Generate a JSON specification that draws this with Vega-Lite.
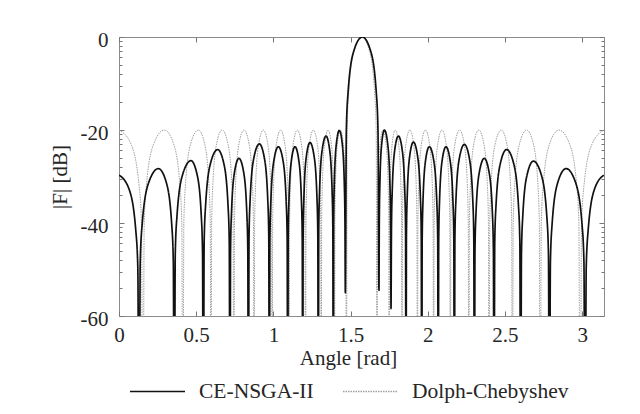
{
"$schema": "https://vega.github.io/schema/vega-lite/v6.json",
"width": 485, "height": 279,
"autosize": {"type": "none"},
"padding": {"left": 119, "top": 37, "right": 36, "bottom": 98},
"background": "white",
"config": {
  "view": {"stroke": "#8c8c8c", "strokeWidth": 1},
  "font": "Liberation Serif",
  "axis": {"domain": false, "grid": false, "tickColor": "#777777", "tickSize": -5, "labelFlush": false, "labelFont": "Liberation Serif", "labelFontSize": 21, "labelColor": "#262626", "titleFont": "Liberation Serif", "titleFontSize": 21, "titleFontWeight": "normal", "titleColor": "#262626"}
},
"data": {"values": [
{"angle":0,"dB":-29.7,"s":"CE-NSGA-II"},{"angle":0.065,"dB":-32.7,"s":"CE-NSGA-II"},{"angle":0.109,"dB":-41.7,"s":"CE-NSGA-II"},{"angle":0.122,"dB":-49.7,"s":"CE-NSGA-II"},{"angle":0.13,"dB":-100,"s":"CE-NSGA-II"},
{"angle":0.1375,"dB":-48.3,"s":"CE-NSGA-II"},{"angle":0.15,"dB":-40.3,"s":"CE-NSGA-II"},{"angle":0.1925,"dB":-31.3,"s":"CE-NSGA-II"},{"angle":0.255,"dB":-28.3,"s":"CE-NSGA-II"},{"angle":0.3065,"dB":-31.3,"s":"CE-NSGA-II"},{"angle":0.3415,"dB":-40.3,"s":"CE-NSGA-II"},{"angle":0.3518,"dB":-48.3,"s":"CE-NSGA-II"},{"angle":0.358,"dB":-100,"s":"CE-NSGA-II"},
{"angle":0.3645,"dB":-46.6,"s":"CE-NSGA-II"},{"angle":0.3753,"dB":-38.6,"s":"CE-NSGA-II"},{"angle":0.412,"dB":-29.6,"s":"CE-NSGA-II"},{"angle":0.466,"dB":-26.6,"s":"CE-NSGA-II"},{"angle":0.506,"dB":-29.6,"s":"CE-NSGA-II"},{"angle":0.5332,"dB":-38.6,"s":"CE-NSGA-II"},{"angle":0.5412,"dB":-46.6,"s":"CE-NSGA-II"},{"angle":0.546,"dB":-100,"s":"CE-NSGA-II"},
{"angle":0.5516,"dB":-44.2,"s":"CE-NSGA-II"},{"angle":0.5609,"dB":-36.2,"s":"CE-NSGA-II"},{"angle":0.5925,"dB":-27.2,"s":"CE-NSGA-II"},{"angle":0.639,"dB":-24.2,"s":"CE-NSGA-II"},{"angle":0.679,"dB":-27.2,"s":"CE-NSGA-II"},{"angle":0.7062,"dB":-36.2,"s":"CE-NSGA-II"},{"angle":0.7142,"dB":-44.2,"s":"CE-NSGA-II"},{"angle":0.719,"dB":-100,"s":"CE-NSGA-II"},
{"angle":0.7225,"dB":-46.1,"s":"CE-NSGA-II"},{"angle":0.7283,"dB":-38.1,"s":"CE-NSGA-II"},{"angle":0.748,"dB":-29.1,"s":"CE-NSGA-II"},{"angle":0.777,"dB":-26.1,"s":"CE-NSGA-II"},{"angle":0.8075,"dB":-29.1,"s":"CE-NSGA-II"},{"angle":0.8282,"dB":-38.1,"s":"CE-NSGA-II"},{"angle":0.8343,"dB":-46.1,"s":"CE-NSGA-II"},{"angle":0.838,"dB":-100,"s":"CE-NSGA-II"},
{"angle":0.8423,"dB":-43,"s":"CE-NSGA-II"},{"angle":0.8494,"dB":-35,"s":"CE-NSGA-II"},{"angle":0.8735,"dB":-26,"s":"CE-NSGA-II"},{"angle":0.909,"dB":-23,"s":"CE-NSGA-II"},{"angle":0.9415,"dB":-26,"s":"CE-NSGA-II"},{"angle":0.9636,"dB":-35,"s":"CE-NSGA-II"},{"angle":0.9701,"dB":-43,"s":"CE-NSGA-II"},{"angle":0.974,"dB":-100,"s":"CE-NSGA-II"},
{"angle":0.9775,"dB":-43.6,"s":"CE-NSGA-II"},{"angle":0.9833,"dB":-35.6,"s":"CE-NSGA-II"},{"angle":1.003,"dB":-26.6,"s":"CE-NSGA-II"},{"angle":1.032,"dB":-23.6,"s":"CE-NSGA-II"},{"angle":1.0625,"dB":-26.6,"s":"CE-NSGA-II"},{"angle":1.0832,"dB":-35.6,"s":"CE-NSGA-II"},{"angle":1.0893,"dB":-43.6,"s":"CE-NSGA-II"},{"angle":1.093,"dB":-100,"s":"CE-NSGA-II"},
{"angle":1.0958,"dB":-43.6,"s":"CE-NSGA-II"},{"angle":1.1005,"dB":-35.6,"s":"CE-NSGA-II"},{"angle":1.1165,"dB":-26.6,"s":"CE-NSGA-II"},{"angle":1.14,"dB":-23.6,"s":"CE-NSGA-II"},{"angle":1.165,"dB":-26.6,"s":"CE-NSGA-II"},{"angle":1.182,"dB":-35.6,"s":"CE-NSGA-II"},{"angle":1.187,"dB":-43.6,"s":"CE-NSGA-II"},{"angle":1.19,"dB":-100,"s":"CE-NSGA-II"},
{"angle":1.1928,"dB":-42.7,"s":"CE-NSGA-II"},{"angle":1.1975,"dB":-34.7,"s":"CE-NSGA-II"},{"angle":1.2135,"dB":-25.7,"s":"CE-NSGA-II"},{"angle":1.237,"dB":-22.7,"s":"CE-NSGA-II"},{"angle":1.264,"dB":-25.7,"s":"CE-NSGA-II"},{"angle":1.2824,"dB":-34.7,"s":"CE-NSGA-II"},{"angle":1.2878,"dB":-42.7,"s":"CE-NSGA-II"},{"angle":1.291,"dB":-100,"s":"CE-NSGA-II"},
{"angle":1.294,"dB":-41.3,"s":"CE-NSGA-II"},{"angle":1.299,"dB":-33.3,"s":"CE-NSGA-II"},{"angle":1.316,"dB":-24.3,"s":"CE-NSGA-II"},{"angle":1.341,"dB":-21.3,"s":"CE-NSGA-II"},{"angle":1.3645,"dB":-24.3,"s":"CE-NSGA-II"},{"angle":1.3805,"dB":-33.3,"s":"CE-NSGA-II"},{"angle":1.3852,"dB":-41.3,"s":"CE-NSGA-II"},{"angle":1.388,"dB":-100,"s":"CE-NSGA-II"},
{"angle":1.3903,"dB":-40.1,"s":"CE-NSGA-II"},{"angle":1.3942,"dB":-32.1,"s":"CE-NSGA-II"},{"angle":1.4075,"dB":-23.1,"s":"CE-NSGA-II"},{"angle":1.427,"dB":-20.1,"s":"CE-NSGA-II"},{"angle":1.4465,"dB":-23.1,"s":"CE-NSGA-II"},{"angle":1.4598,"dB":-32.1,"s":"CE-NSGA-II"},{"angle":1.4637,"dB":-40.1,"s":"CE-NSGA-II"},{"angle":1.466,"dB":-55,"s":"CE-NSGA-II"},
{"angle":1.4726,"dB":-20,"s":"CE-NSGA-II"},{"angle":1.4836,"dB":-12,"s":"CE-NSGA-II"},{"angle":1.521,"dB":-3,"s":"CE-NSGA-II"},{"angle":1.576,"dB":0,"s":"CE-NSGA-II"},{"angle":1.63,"dB":-3,"s":"CE-NSGA-II"},{"angle":1.6667,"dB":-12,"s":"CE-NSGA-II"},{"angle":1.6775,"dB":-20,"s":"CE-NSGA-II"},{"angle":1.684,"dB":-54.5,"s":"CE-NSGA-II"},
{"angle":1.6861,"dB":-40,"s":"CE-NSGA-II"},{"angle":1.6896,"dB":-32,"s":"CE-NSGA-II"},{"angle":1.7015,"dB":-23,"s":"CE-NSGA-II"},{"angle":1.719,"dB":-20,"s":"CE-NSGA-II"},{"angle":1.7405,"dB":-23,"s":"CE-NSGA-II"},{"angle":1.7551,"dB":-32,"s":"CE-NSGA-II"},{"angle":1.7594,"dB":-40,"s":"CE-NSGA-II"},{"angle":1.762,"dB":-58.4,"s":"CE-NSGA-II"},
{"angle":1.7649,"dB":-41.3,"s":"CE-NSGA-II"},{"angle":1.7697,"dB":-33.3,"s":"CE-NSGA-II"},{"angle":1.786,"dB":-24.3,"s":"CE-NSGA-II"},{"angle":1.81,"dB":-21.3,"s":"CE-NSGA-II"},{"angle":1.8345,"dB":-24.3,"s":"CE-NSGA-II"},{"angle":1.8512,"dB":-33.3,"s":"CE-NSGA-II"},{"angle":1.8561,"dB":-41.3,"s":"CE-NSGA-II"},{"angle":1.859,"dB":-100,"s":"CE-NSGA-II"},
{"angle":1.8619,"dB":-42.6,"s":"CE-NSGA-II"},{"angle":1.8667,"dB":-34.6,"s":"CE-NSGA-II"},{"angle":1.883,"dB":-25.6,"s":"CE-NSGA-II"},{"angle":1.907,"dB":-22.6,"s":"CE-NSGA-II"},{"angle":1.934,"dB":-25.6,"s":"CE-NSGA-II"},{"angle":1.9524,"dB":-34.6,"s":"CE-NSGA-II"},{"angle":1.9578,"dB":-42.6,"s":"CE-NSGA-II"},{"angle":1.961,"dB":-100,"s":"CE-NSGA-II"},
{"angle":1.9639,"dB":-43.6,"s":"CE-NSGA-II"},{"angle":1.9688,"dB":-35.6,"s":"CE-NSGA-II"},{"angle":1.9855,"dB":-26.6,"s":"CE-NSGA-II"},{"angle":2.01,"dB":-23.6,"s":"CE-NSGA-II"},{"angle":2.039,"dB":-26.6,"s":"CE-NSGA-II"},{"angle":2.0587,"dB":-35.6,"s":"CE-NSGA-II"},{"angle":2.0645,"dB":-43.6,"s":"CE-NSGA-II"},{"angle":2.068,"dB":-100,"s":"CE-NSGA-II"},
{"angle":2.071,"dB":-43.6,"s":"CE-NSGA-II"},{"angle":2.076,"dB":-35.6,"s":"CE-NSGA-II"},{"angle":2.093,"dB":-26.6,"s":"CE-NSGA-II"},{"angle":2.118,"dB":-23.6,"s":"CE-NSGA-II"},{"angle":2.145,"dB":-26.6,"s":"CE-NSGA-II"},{"angle":2.1634,"dB":-35.6,"s":"CE-NSGA-II"},{"angle":2.1688,"dB":-43.6,"s":"CE-NSGA-II"},{"angle":2.172,"dB":-100,"s":"CE-NSGA-II"},
{"angle":2.1759,"dB":-43.1,"s":"CE-NSGA-II"},{"angle":2.1824,"dB":-35.1,"s":"CE-NSGA-II"},{"angle":2.2045,"dB":-26.1,"s":"CE-NSGA-II"},{"angle":2.237,"dB":-23.1,"s":"CE-NSGA-II"},{"angle":2.2695,"dB":-26.1,"s":"CE-NSGA-II"},{"angle":2.2916,"dB":-35.1,"s":"CE-NSGA-II"},{"angle":2.2981,"dB":-43.1,"s":"CE-NSGA-II"},{"angle":2.302,"dB":-100,"s":"CE-NSGA-II"},
{"angle":2.3058,"dB":-46.1,"s":"CE-NSGA-II"},{"angle":2.3122,"dB":-38.1,"s":"CE-NSGA-II"},{"angle":2.334,"dB":-29.1,"s":"CE-NSGA-II"},{"angle":2.366,"dB":-26.1,"s":"CE-NSGA-II"},{"angle":2.3975,"dB":-29.1,"s":"CE-NSGA-II"},{"angle":2.4189,"dB":-38.1,"s":"CE-NSGA-II"},{"angle":2.4252,"dB":-46.1,"s":"CE-NSGA-II"},{"angle":2.429,"dB":-100,"s":"CE-NSGA-II"},
{"angle":2.4339,"dB":-44.2,"s":"CE-NSGA-II"},{"angle":2.4421,"dB":-36.2,"s":"CE-NSGA-II"},{"angle":2.47,"dB":-27.2,"s":"CE-NSGA-II"},{"angle":2.511,"dB":-24.2,"s":"CE-NSGA-II"},{"angle":2.5565,"dB":-27.2,"s":"CE-NSGA-II"},{"angle":2.5874,"dB":-36.2,"s":"CE-NSGA-II"},{"angle":2.5965,"dB":-44.2,"s":"CE-NSGA-II"},{"angle":2.602,"dB":-100,"s":"CE-NSGA-II"},
{"angle":2.6069,"dB":-46.7,"s":"CE-NSGA-II"},{"angle":2.6151,"dB":-38.7,"s":"CE-NSGA-II"},{"angle":2.643,"dB":-29.7,"s":"CE-NSGA-II"},{"angle":2.684,"dB":-26.7,"s":"CE-NSGA-II"},{"angle":2.736,"dB":-29.7,"s":"CE-NSGA-II"},{"angle":2.7714,"dB":-38.7,"s":"CE-NSGA-II"},{"angle":2.7818,"dB":-46.7,"s":"CE-NSGA-II"},{"angle":2.788,"dB":-100,"s":"CE-NSGA-II"},
{"angle":2.7945,"dB":-48.3,"s":"CE-NSGA-II"},{"angle":2.8053,"dB":-40.3,"s":"CE-NSGA-II"},{"angle":2.842,"dB":-31.3,"s":"CE-NSGA-II"},{"angle":2.896,"dB":-28.3,"s":"CE-NSGA-II"},{"angle":2.9575,"dB":-31.3,"s":"CE-NSGA-II"},{"angle":2.9993,"dB":-40.3,"s":"CE-NSGA-II"},{"angle":3.0116,"dB":-48.3,"s":"CE-NSGA-II"},{"angle":3.019,"dB":-100,"s":"CE-NSGA-II"},
{"angle":3.0264,"dB":-49.7,"s":"CE-NSGA-II"},{"angle":3.0386,"dB":-41.7,"s":"CE-NSGA-II"},{"angle":3.0803,"dB":-32.7,"s":"CE-NSGA-II"},{"angle":3.1416,"dB":-29.7,"s":"CE-NSGA-II"},
{"angle":0,"dB":-20,"s":"Dolph-Chebyshev"},{"angle":0.0775,"dB":-23,"s":"Dolph-Chebyshev"},{"angle":0.1302,"dB":-32,"s":"Dolph-Chebyshev"},{"angle":0.1457,"dB":-40,"s":"Dolph-Chebyshev"},{"angle":0.155,"dB":-100,"s":"Dolph-Chebyshev"},
{"angle":0.1633,"dB":-40,"s":"Dolph-Chebyshev"},{"angle":0.1772,"dB":-32,"s":"Dolph-Chebyshev"},{"angle":0.2245,"dB":-23,"s":"Dolph-Chebyshev"},{"angle":0.294,"dB":-20,"s":"Dolph-Chebyshev"},{"angle":0.354,"dB":-23,"s":"Dolph-Chebyshev"},{"angle":0.3948,"dB":-32,"s":"Dolph-Chebyshev"},{"angle":0.4068,"dB":-40,"s":"Dolph-Chebyshev"},{"angle":0.414,"dB":-100,"s":"Dolph-Chebyshev"},
{"angle":0.42,"dB":-40,"s":"Dolph-Chebyshev"},{"angle":0.43,"dB":-32,"s":"Dolph-Chebyshev"},{"angle":0.464,"dB":-23,"s":"Dolph-Chebyshev"},{"angle":0.514,"dB":-20,"s":"Dolph-Chebyshev"},{"angle":0.555,"dB":-23,"s":"Dolph-Chebyshev"},{"angle":0.5829,"dB":-32,"s":"Dolph-Chebyshev"},{"angle":0.5911,"dB":-40,"s":"Dolph-Chebyshev"},{"angle":0.596,"dB":-100,"s":"Dolph-Chebyshev"},
{"angle":0.6003,"dB":-40,"s":"Dolph-Chebyshev"},{"angle":0.6075,"dB":-32,"s":"Dolph-Chebyshev"},{"angle":0.632,"dB":-23,"s":"Dolph-Chebyshev"},{"angle":0.668,"dB":-20,"s":"Dolph-Chebyshev"},{"angle":0.706,"dB":-23,"s":"Dolph-Chebyshev"},{"angle":0.7318,"dB":-32,"s":"Dolph-Chebyshev"},{"angle":0.7394,"dB":-40,"s":"Dolph-Chebyshev"},{"angle":0.744,"dB":-100,"s":"Dolph-Chebyshev"},
{"angle":0.748,"dB":-40,"s":"Dolph-Chebyshev"},{"angle":0.7546,"dB":-32,"s":"Dolph-Chebyshev"},{"angle":0.777,"dB":-23,"s":"Dolph-Chebyshev"},{"angle":0.81,"dB":-20,"s":"Dolph-Chebyshev"},{"angle":0.8425,"dB":-23,"s":"Dolph-Chebyshev"},{"angle":0.8646,"dB":-32,"s":"Dolph-Chebyshev"},{"angle":0.8711,"dB":-40,"s":"Dolph-Chebyshev"},{"angle":0.875,"dB":-100,"s":"Dolph-Chebyshev"},
{"angle":0.8786,"dB":-40,"s":"Dolph-Chebyshev"},{"angle":0.8846,"dB":-32,"s":"Dolph-Chebyshev"},{"angle":0.905,"dB":-23,"s":"Dolph-Chebyshev"},{"angle":0.935,"dB":-20,"s":"Dolph-Chebyshev"},{"angle":0.9635,"dB":-23,"s":"Dolph-Chebyshev"},{"angle":0.9829,"dB":-32,"s":"Dolph-Chebyshev"},{"angle":0.9886,"dB":-40,"s":"Dolph-Chebyshev"},{"angle":0.992,"dB":-100,"s":"Dolph-Chebyshev"},
{"angle":0.9953,"dB":-40,"s":"Dolph-Chebyshev"},{"angle":1.0008,"dB":-32,"s":"Dolph-Chebyshev"},{"angle":1.0195,"dB":-23,"s":"Dolph-Chebyshev"},{"angle":1.047,"dB":-20,"s":"Dolph-Chebyshev"},{"angle":1.0745,"dB":-23,"s":"Dolph-Chebyshev"},{"angle":1.0932,"dB":-32,"s":"Dolph-Chebyshev"},{"angle":1.0987,"dB":-40,"s":"Dolph-Chebyshev"},{"angle":1.102,"dB":-100,"s":"Dolph-Chebyshev"},
{"angle":1.1052,"dB":-40,"s":"Dolph-Chebyshev"},{"angle":1.1105,"dB":-32,"s":"Dolph-Chebyshev"},{"angle":1.1285,"dB":-23,"s":"Dolph-Chebyshev"},{"angle":1.155,"dB":-20,"s":"Dolph-Chebyshev"},{"angle":1.1815,"dB":-23,"s":"Dolph-Chebyshev"},{"angle":1.1995,"dB":-32,"s":"Dolph-Chebyshev"},{"angle":1.2048,"dB":-40,"s":"Dolph-Chebyshev"},{"angle":1.208,"dB":-100,"s":"Dolph-Chebyshev"},
{"angle":1.2111,"dB":-40,"s":"Dolph-Chebyshev"},{"angle":1.2162,"dB":-32,"s":"Dolph-Chebyshev"},{"angle":1.2335,"dB":-23,"s":"Dolph-Chebyshev"},{"angle":1.259,"dB":-20,"s":"Dolph-Chebyshev"},{"angle":1.2845,"dB":-23,"s":"Dolph-Chebyshev"},{"angle":1.3018,"dB":-32,"s":"Dolph-Chebyshev"},{"angle":1.3069,"dB":-40,"s":"Dolph-Chebyshev"},{"angle":1.31,"dB":-100,"s":"Dolph-Chebyshev"},
{"angle":1.3126,"dB":-40,"s":"Dolph-Chebyshev"},{"angle":1.317,"dB":-32,"s":"Dolph-Chebyshev"},{"angle":1.332,"dB":-23,"s":"Dolph-Chebyshev"},{"angle":1.354,"dB":-20,"s":"Dolph-Chebyshev"},{"angle":1.375,"dB":-23,"s":"Dolph-Chebyshev"},{"angle":1.3893,"dB":-32,"s":"Dolph-Chebyshev"},{"angle":1.3935,"dB":-40,"s":"Dolph-Chebyshev"},{"angle":1.396,"dB":-100,"s":"Dolph-Chebyshev"},
{"angle":1.3983,"dB":-40,"s":"Dolph-Chebyshev"},{"angle":1.4021,"dB":-32,"s":"Dolph-Chebyshev"},{"angle":1.415,"dB":-23,"s":"Dolph-Chebyshev"},{"angle":1.434,"dB":-20,"s":"Dolph-Chebyshev"},{"angle":1.453,"dB":-23,"s":"Dolph-Chebyshev"},{"angle":1.4659,"dB":-32,"s":"Dolph-Chebyshev"},{"angle":1.4697,"dB":-40,"s":"Dolph-Chebyshev"},{"angle":1.472,"dB":-100,"s":"Dolph-Chebyshev"},
{"angle":1.4781,"dB":-20,"s":"Dolph-Chebyshev"},{"angle":1.4882,"dB":-12,"s":"Dolph-Chebyshev"},{"angle":1.5225,"dB":-3,"s":"Dolph-Chebyshev"},{"angle":1.573,"dB":0,"s":"Dolph-Chebyshev"},{"angle":1.6225,"dB":-3,"s":"Dolph-Chebyshev"},{"angle":1.6562,"dB":-12,"s":"Dolph-Chebyshev"},{"angle":1.6661,"dB":-20,"s":"Dolph-Chebyshev"},{"angle":1.672,"dB":-100,"s":"Dolph-Chebyshev"},
{"angle":1.6743,"dB":-40,"s":"Dolph-Chebyshev"},{"angle":1.6781,"dB":-32,"s":"Dolph-Chebyshev"},{"angle":1.691,"dB":-23,"s":"Dolph-Chebyshev"},{"angle":1.71,"dB":-20,"s":"Dolph-Chebyshev"},{"angle":1.73,"dB":-23,"s":"Dolph-Chebyshev"},{"angle":1.7436,"dB":-32,"s":"Dolph-Chebyshev"},{"angle":1.7476,"dB":-40,"s":"Dolph-Chebyshev"},{"angle":1.75,"dB":-100,"s":"Dolph-Chebyshev"},
{"angle":1.7523,"dB":-40,"s":"Dolph-Chebyshev"},{"angle":1.7562,"dB":-32,"s":"Dolph-Chebyshev"},{"angle":1.7695,"dB":-23,"s":"Dolph-Chebyshev"},{"angle":1.789,"dB":-20,"s":"Dolph-Chebyshev"},{"angle":1.811,"dB":-23,"s":"Dolph-Chebyshev"},{"angle":1.826,"dB":-32,"s":"Dolph-Chebyshev"},{"angle":1.8304,"dB":-40,"s":"Dolph-Chebyshev"},{"angle":1.833,"dB":-100,"s":"Dolph-Chebyshev"},
{"angle":1.8361,"dB":-40,"s":"Dolph-Chebyshev"},{"angle":1.8412,"dB":-32,"s":"Dolph-Chebyshev"},{"angle":1.8585,"dB":-23,"s":"Dolph-Chebyshev"},{"angle":1.884,"dB":-20,"s":"Dolph-Chebyshev"},{"angle":1.9085,"dB":-23,"s":"Dolph-Chebyshev"},{"angle":1.9252,"dB":-32,"s":"Dolph-Chebyshev"},{"angle":1.9301,"dB":-40,"s":"Dolph-Chebyshev"},{"angle":1.933,"dB":-100,"s":"Dolph-Chebyshev"},
{"angle":1.9361,"dB":-40,"s":"Dolph-Chebyshev"},{"angle":1.9413,"dB":-32,"s":"Dolph-Chebyshev"},{"angle":1.959,"dB":-23,"s":"Dolph-Chebyshev"},{"angle":1.985,"dB":-20,"s":"Dolph-Chebyshev"},{"angle":2.0115,"dB":-23,"s":"Dolph-Chebyshev"},{"angle":2.0295,"dB":-32,"s":"Dolph-Chebyshev"},{"angle":2.0348,"dB":-40,"s":"Dolph-Chebyshev"},{"angle":2.038,"dB":-100,"s":"Dolph-Chebyshev"},
{"angle":2.0412,"dB":-40,"s":"Dolph-Chebyshev"},{"angle":2.0466,"dB":-32,"s":"Dolph-Chebyshev"},{"angle":2.065,"dB":-23,"s":"Dolph-Chebyshev"},{"angle":2.092,"dB":-20,"s":"Dolph-Chebyshev"},{"angle":2.119,"dB":-23,"s":"Dolph-Chebyshev"},{"angle":2.1374,"dB":-32,"s":"Dolph-Chebyshev"},{"angle":2.1428,"dB":-40,"s":"Dolph-Chebyshev"},{"angle":2.146,"dB":-100,"s":"Dolph-Chebyshev"},
{"angle":2.1496,"dB":-40,"s":"Dolph-Chebyshev"},{"angle":2.1556,"dB":-32,"s":"Dolph-Chebyshev"},{"angle":2.176,"dB":-23,"s":"Dolph-Chebyshev"},{"angle":2.206,"dB":-20,"s":"Dolph-Chebyshev"},{"angle":2.236,"dB":-23,"s":"Dolph-Chebyshev"},{"angle":2.2564,"dB":-32,"s":"Dolph-Chebyshev"},{"angle":2.2624,"dB":-40,"s":"Dolph-Chebyshev"},{"angle":2.266,"dB":-100,"s":"Dolph-Chebyshev"},
{"angle":2.2698,"dB":-40,"s":"Dolph-Chebyshev"},{"angle":2.2762,"dB":-32,"s":"Dolph-Chebyshev"},{"angle":2.298,"dB":-23,"s":"Dolph-Chebyshev"},{"angle":2.33,"dB":-20,"s":"Dolph-Chebyshev"},{"angle":2.3635,"dB":-23,"s":"Dolph-Chebyshev"},{"angle":2.3863,"dB":-32,"s":"Dolph-Chebyshev"},{"angle":2.393,"dB":-40,"s":"Dolph-Chebyshev"},{"angle":2.397,"dB":-100,"s":"Dolph-Chebyshev"},
{"angle":2.4017,"dB":-40,"s":"Dolph-Chebyshev"},{"angle":2.4096,"dB":-32,"s":"Dolph-Chebyshev"},{"angle":2.4365,"dB":-23,"s":"Dolph-Chebyshev"},{"angle":2.476,"dB":-20,"s":"Dolph-Chebyshev"},{"angle":2.512,"dB":-23,"s":"Dolph-Chebyshev"},{"angle":2.5365,"dB":-32,"s":"Dolph-Chebyshev"},{"angle":2.5437,"dB":-40,"s":"Dolph-Chebyshev"},{"angle":2.548,"dB":-100,"s":"Dolph-Chebyshev"},
{"angle":2.5535,"dB":-40,"s":"Dolph-Chebyshev"},{"angle":2.5627,"dB":-32,"s":"Dolph-Chebyshev"},{"angle":2.594,"dB":-23,"s":"Dolph-Chebyshev"},{"angle":2.64,"dB":-20,"s":"Dolph-Chebyshev"},{"angle":2.684,"dB":-23,"s":"Dolph-Chebyshev"},{"angle":2.7139,"dB":-32,"s":"Dolph-Chebyshev"},{"angle":2.7227,"dB":-40,"s":"Dolph-Chebyshev"},{"angle":2.728,"dB":-100,"s":"Dolph-Chebyshev"},
{"angle":2.7353,"dB":-40,"s":"Dolph-Chebyshev"},{"angle":2.7475,"dB":-32,"s":"Dolph-Chebyshev"},{"angle":2.789,"dB":-23,"s":"Dolph-Chebyshev"},{"angle":2.85,"dB":-20,"s":"Dolph-Chebyshev"},{"angle":2.9185,"dB":-23,"s":"Dolph-Chebyshev"},{"angle":2.9651,"dB":-32,"s":"Dolph-Chebyshev"},{"angle":2.9788,"dB":-40,"s":"Dolph-Chebyshev"},{"angle":2.987,"dB":-100,"s":"Dolph-Chebyshev"},
{"angle":2.9963,"dB":-40,"s":"Dolph-Chebyshev"},{"angle":3.0117,"dB":-32,"s":"Dolph-Chebyshev"},{"angle":3.0643,"dB":-23,"s":"Dolph-Chebyshev"},{"angle":3.1416,"dB":-20,"s":"Dolph-Chebyshev"}
]},
"encoding": {
  "color": {"field": "s", "type": "nominal", "scale": {"domain": ["CE-NSGA-II", "Dolph-Chebyshev"], "range": ["#111111", "#a0a0a0"]},
    "legend": {"title": null, "orient": "none", "legendX": 10, "legendY": 326, "direction": "horizontal", "symbolType": "stroke", "symbolSize": 3025, "labelFont": "Liberation Serif", "labelFontSize": 21.5, "labelColor": "#262626", "labelOffset": 13, "columnPadding": 26, "padding": 0}},
  "strokeDash": {"field": "s", "type": "nominal", "scale": {"domain": ["CE-NSGA-II", "Dolph-Chebyshev"], "range": [[1, 0], [1.5, 1]]},
    "legend": {"title": null, "orient": "none", "legendX": 10, "legendY": 326, "direction": "horizontal", "symbolType": "stroke", "symbolSize": 3025, "labelFont": "Liberation Serif", "labelFontSize": 21.5, "labelColor": "#262626", "labelOffset": 13, "columnPadding": 26, "padding": 0}}
},
"layer": [
  {"transform": [{"filter": "datum.s === 'Dolph-Chebyshev'"}],
   "mark": {"type": "line", "interpolate": "monotone", "clip": true, "strokeWidth": 1},
   "encoding": {
     "x": {"field": "angle", "type": "quantitative", "scale": {"domain": [0, 3.14159], "nice": false, "zero": false},
       "axis": {"orient": "bottom", "values": [0, 0.5, 1, 1.5, 2, 2.5, 3], "labelExpr": "'' + datum.value", "labelBaseline": "alphabetic", "labelPadding": 30, "title": "Angle [rad]", "titleX": 229, "titleY": 48, "titleBaseline": "alphabetic"}},
     "y": {"field": "dB", "type": "quantitative", "scale": {"domain": [-60, 0], "nice": false, "zero": false},
       "axis": {"orient": "left", "values": [0, -20, -40, -60], "labelExpr": "'' + datum.value", "labelPadding": 16, "labelOffset": 3, "title": "|F| [dB]", "titlePadding": 10}}
   }},
  {"transform": [{"filter": "datum.s === 'CE-NSGA-II'"}],
   "mark": {"type": "line", "interpolate": "monotone", "clip": true, "strokeWidth": 1.7},
   "encoding": {
     "x": {"field": "angle", "type": "quantitative", "scale": {"domain": [0, 3.14159], "nice": false, "zero": false},
       "axis": {"orient": "top", "values": [0, 0.5, 1, 1.5, 2, 2.5, 3], "labels": false, "title": null}},
     "y": {"field": "dB", "type": "quantitative", "scale": {"domain": [-60, 0], "nice": false, "zero": false},
       "axis": {"orient": "right", "values": [0, -20, -40, -60], "labels": false, "title": null}}
   }},
  {"transform": [{"filter": "datum.s === 'CE-NSGA-II'"}],
   "mark": {"type": "line", "opacity": 0, "clip": true},
   "encoding": {
     "x": {"field": "angle", "type": "quantitative", "scale": {"domain": [0, 3.14159], "nice": false, "zero": false}, "axis": null},
     "y": {"field": "dB", "type": "quantitative", "scale": {"domain": [-60, 0], "nice": false, "zero": false},
       "axis": {"orient": "left", "values": [-54, -50.5, -48, -46, -44.4, -43.1, -41.9, -40.9, -34, -30.5, -28, -26, -24.4, -23.1, -21.9, -20.9, -14, -10.5, -8, -6, -4.4, -3.1, -1.9, -0.9], "labels": false, "tickSize": -3, "title": null}}
   }},
  {"transform": [{"filter": "datum.s === 'CE-NSGA-II'"}],
   "mark": {"type": "line", "opacity": 0, "clip": true},
   "encoding": {
     "x": {"field": "angle", "type": "quantitative", "scale": {"domain": [0, 3.14159], "nice": false, "zero": false}, "axis": null},
     "y": {"field": "dB", "type": "quantitative", "scale": {"domain": [-60, 0], "nice": false, "zero": false},
       "axis": {"orient": "right", "values": [-54, -50.5, -48, -46, -44.4, -43.1, -41.9, -40.9, -34, -30.5, -28, -26, -24.4, -23.1, -21.9, -20.9, -14, -10.5, -8, -6, -4.4, -3.1, -1.9, -0.9], "labels": false, "tickSize": -3, "title": null}}
   }}
],
"resolve": {"axis": {"x": "independent", "y": "independent"}}
}
